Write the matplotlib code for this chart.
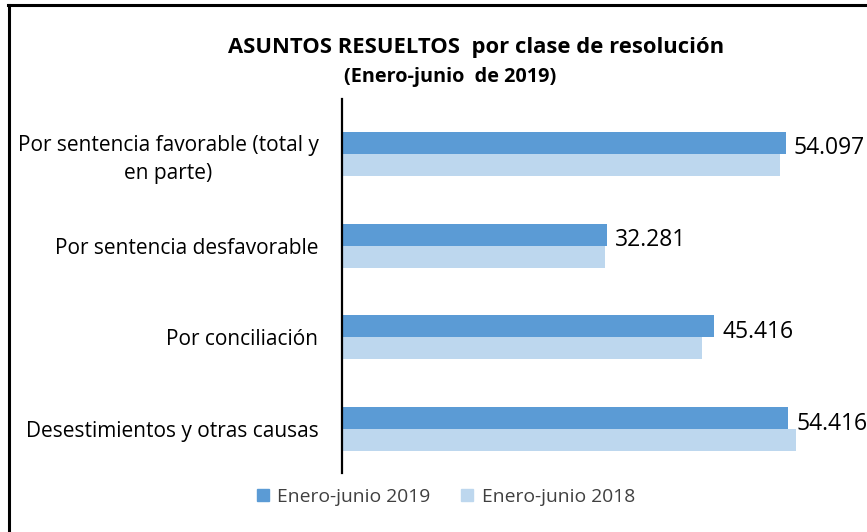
import matplotlib
matplotlib.use("Agg")
import matplotlib.pyplot as plt
from matplotlib.patches import Patch
from matplotlib.lines import Line2D

categories = ["Por sentencia favorable (total y\nen parte)",
              "Por sentencia desfavorable",
              "Por conciliación",
              "Desestimientos y otras causas"]
values_2019 = [54097, 32281, 45416, 54416]
values_2018 = [53390, 32060, 43880, 55340]
value_labels = ["54.097", "32.281", "45.416", "54.416"]
series_names = ["Enero-junio 2019", "Enero-junio 2018"]

c2019 = "#5B9BD5"
c2018 = "#BDD7EE"

plt.rcParams['font.family'] = ['Open Sans', 'DejaVu Sans']

W, H = 867, 532
fig = plt.figure(figsize=(W / 100, H / 100), dpi=100)
fig.patch.set_facecolor("white")

# frame lines (top and left only, as in reference)
fig.add_artist(Line2D([8 / W, 1], [1 - 5 / H, 1 - 5 / H], color="black", lw=2.2))
fig.add_artist(Line2D([8.5 / W, 8.5 / W], [0, 1 - 5 / H], color="black", lw=2.2))

ax = fig.add_axes([342 / W, 59 / H, (834 - 342) / W, (473 - 99) / H])
pos = list(range(len(categories)))
off = 0.12
h = 0.239
ax.barh([p - off for p in pos], values_2019, height=h, color=c2019, label=series_names[0])
ax.barh([p + off for p in pos], values_2018, height=h, color=c2018, label=series_names[1])

ax.set_xlim(0, 60000)
ax.set_ylim(3.478, -0.598)
for s in ["top", "right", "bottom"]:
    ax.spines[s].set_visible(False)
ax.spines["left"].set_linewidth(1.6)
ax.spines["left"].set_color("black")
ax.set_xticks([])
ax.set_yticks(pos)
ax.set_yticklabels(categories, fontsize=15, color="black")
ax.tick_params(axis="y", length=0, pad=17)
for lbl in ax.get_yticklabels():
    lbl.set_multialignment("center")
    lbl.set_linespacing(1.42)

for p, v, t in zip(pos, values_2019, value_labels):
    ax.annotate(t, (v, p - off), xytext=(6, -4), textcoords="offset points",
                ha="left", va="center", fontsize=16.5, color="black",
                annotation_clip=False)

fig.text(476 / W, 1 - 47 / H, "ASUNTOS RESUELTOS  por clase de resolución",
         ha="center", va="center", fontsize=15.8, fontweight="bold", color="black")
fig.text(450 / W, 1 - 77 / H, "(Enero-junio  de 2019)",
         ha="center", va="center", fontsize=14.3, fontweight="bold", color="black")

handles = [Patch(color=c2019), Patch(color=c2018)]
fig.legend(handles, series_names, loc="center", bbox_to_anchor=(446 / W, 1 - 497 / H),
           ncol=2, frameon=False, fontsize=13.9, handlelength=0.6, handleheight=0.6,
           handletextpad=0.45, columnspacing=1.6, labelcolor="#404040")

fig.savefig("out.png", dpi=100, facecolor="white")
